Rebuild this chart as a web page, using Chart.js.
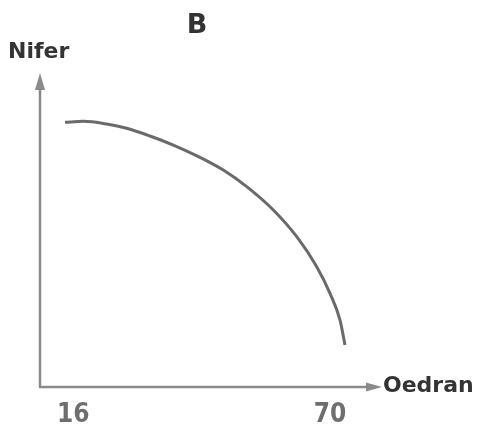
<!DOCTYPE html>
<html>
<head>
<meta charset="utf-8">
<script src="https://cdn.jsdelivr.net/npm/chart.js@4.4.1/dist/chart.umd.min.js"></script>
<style>
  html, body { margin: 0; padding: 0; background: #fff; }
  #wrap { width: 479px; height: 428px; }
</style>
</head>
<body>
<div id="wrap"><canvas id="chart"></canvas></div>
<script>
// curve (age on x, number on y in arbitrary units)
const ages = [14.26, 18.11, 23.03, 27.23, 32.13, 37.03, 42.65, 47.55, 52.47, 58.06, 62.99, 67.19, 69.99, 72.09, 73.14];
const nifer = [84.84, 85.16, 84.29, 82.92, 80.45, 77.56, 73.62, 69.55, 64.2, 56.73, 48.17, 38.56, 30.03, 21.47, 13.46];
const xTicks = [16, 70];

const titleText = 'B';
const yLabel = 'Nifer';
const xLabel = 'Oedran';

const axisColor = '#8a8a8a';
const curveColor = '#6a6a6a';

// draws the two arrowed axes and the labels around them
const axesPlugin = {
    id: 'arrowAxes',
    afterDraw(chart) {
        const ctx = chart.ctx;
        const a = chart.chartArea;
        ctx.save();
        ctx.strokeStyle = axisColor;
        ctx.fillStyle = axisColor;
        ctx.lineWidth = 2.5;

        // y axis
        ctx.beginPath();
        ctx.moveTo(a.left, a.bottom);
        ctx.lineTo(a.left, a.top + 10);
        ctx.stroke();
        ctx.beginPath();
        ctx.moveTo(a.left, a.top - 2);
        ctx.lineTo(a.left - 5, a.top + 15);
        ctx.lineTo(a.left + 5, a.top + 15);
        ctx.closePath();
        ctx.fill();

        // x axis
        ctx.beginPath();
        ctx.moveTo(a.left - 1, a.bottom);
        ctx.lineTo(a.right - 10, a.bottom);
        ctx.stroke();
        ctx.beginPath();
        ctx.moveTo(a.right + 2, a.bottom);
        ctx.lineTo(a.right - 14, a.bottom - 4.5);
        ctx.lineTo(a.right - 14, a.bottom + 4.5);
        ctx.closePath();
        ctx.fill();

        ctx.fillStyle = '#333';
        ctx.textBaseline = 'alphabetic';
        ctx.font = 'bold 22px "DejaVu Sans"';
        ctx.textAlign = 'left';
        ctx.fillText(yLabel, 8, 58);
        ctx.fillText(xLabel, a.right + 3, a.bottom + 5);

        ctx.font = 'bold 27px "DejaVu Sans"';
        ctx.textAlign = 'center';
        ctx.fillText(titleText, 197, 33);
        ctx.restore();
    }
};

new Chart(document.getElementById('chart'), {
    type: 'scatter',
    data: {
        datasets: [{
            data: ages.map((x, i) => ({ x: x, y: nifer[i] })),
            showLine: true,
            borderColor: curveColor,
            borderWidth: 3,
            pointRadius: 0,
            cubicInterpolationMode: 'monotone',
            fill: false
        }]
    },
    options: {
        responsive: true,
        maintainAspectRatio: false,
        animation: false,
        layout: {
            padding: { left: 40, right: 99, top: 75, bottom: 0 }
        },
        plugins: {
            legend: { display: false },
            tooltip: { enabled: false }
        },
        scales: {
            x: {
                type: 'linear',
                min: 9,
                max: 80.5,
                grid: { display: false },
                border: { display: false },
                afterBuildTicks: (scale) => {
                    scale.ticks = xTicks.map(v => ({ value: v }));
                },
                afterFit: (scale) => { scale.height = 41; },
                ticks: {
                    color: '#6e6e6e',
                    padding: 5,
                    maxRotation: 0,
                    font: { family: '"Liberation Sans Narrow", "DejaVu Sans Condensed", sans-serif', size: 26, weight: 'bold' }
                }
            },
            y: {
                type: 'linear',
                display: false,
                min: 0,
                max: 100
            }
        }
    },
    plugins: [axesPlugin]
});
</script>
</body>
</html>
